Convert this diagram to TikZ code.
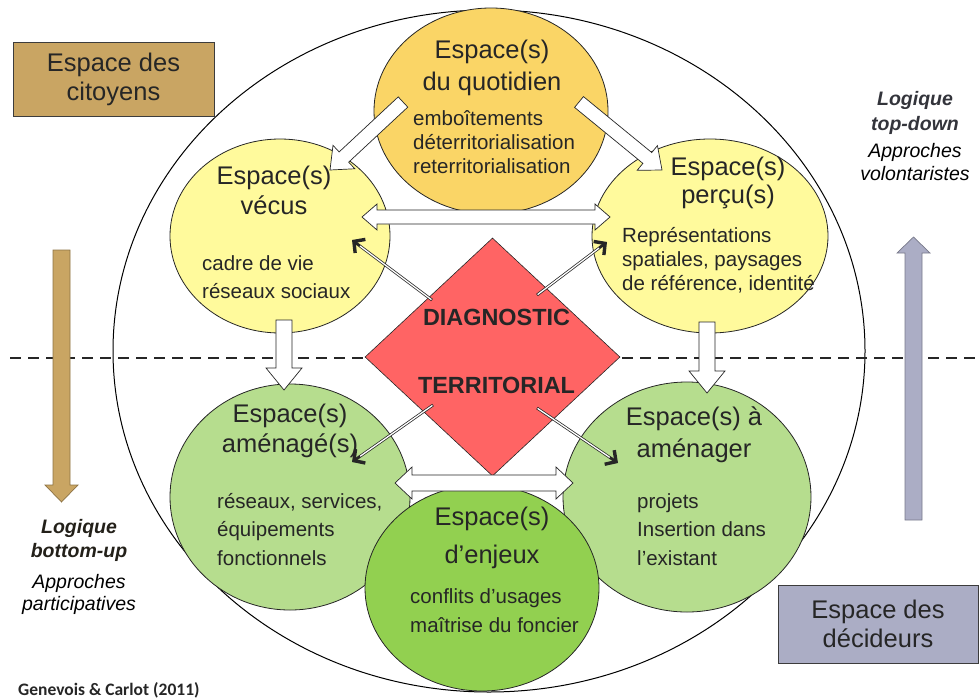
\documentclass[tikz,border=0pt]{standalone}
\usepackage{fontspec}
\setmainfont{Liberation Sans}
\newfontfamily\citefont{Carlito}
\usetikzlibrary{shapes.geometric,arrows.meta,calc,positioning}

\definecolor{quotcol}{HTML}{FAD566}
\definecolor{vecucol}{HTML}{FFFA9C}
\definecolor{amencol}{HTML}{B6DD8E}
\definecolor{enjecol}{HTML}{92D050}
\definecolor{diagcol}{HTML}{FF6464}
\definecolor{citocol}{HTML}{C9A563}
\definecolor{decicol}{HTML}{ABADC5}
\definecolor{inkcol}{HTML}{262626}

\begin{document}
\begin{tikzpicture}[x=1pt,y=-1pt,
        every node/.style={inner sep=0pt,text=inkcol},
        space node/.style={ellipse,draw=inkcol,line width=0.8pt},
        title text/.style={anchor=base,align=center,font=\fontsize{25.5}{30}\selectfont},
        body text/.style={anchor=base west,align=left,font=\fontsize{20.5}{28.5}\selectfont},
        tight body/.style={body text,font=\fontsize{20.5}{24}\selectfont},
        box node/.style={rectangle,draw=inkcol!90,line width=0.9pt,align=center,
            font=\fontsize{25.5}{29}\selectfont},
        logic text/.style={anchor=base,align=center,font=\fontsize{19.5}{24}\selectfont\bfseries\itshape},
        approach text/.style={anchor=base,align=center,text=black,
            font=\fontsize{19.5}{22.5}\selectfont\itshape},
        arrw/.store in=\arrw, arrh/.store in=\arrh, arrl/.store in=\arrl,
        arrw=7pt, arrh=16pt, arrl=19pt,
        block arrow/.style={draw=inkcol,fill=white,line width=0.7pt,line join=miter,
            to path={
            -- ($(\tikztostart)!\arrw!90:(\tikztotarget)$)
            -- ($($(\tikztotarget)!\arrl!(\tikztostart)$)!\arrw!-90:(\tikztostart)$)
            -- ($($(\tikztotarget)!\arrl!(\tikztostart)$)!\arrh!-90:(\tikztostart)$)
            -- (\tikztotarget)
            -- ($($(\tikztotarget)!\arrl!(\tikztostart)$)!\arrh!90:(\tikztostart)$)
            -- ($($(\tikztotarget)!\arrl!(\tikztostart)$)!\arrw!90:(\tikztostart)$)
            -- ($(\tikztostart)!\arrw!-90:(\tikztotarget)$)
            -- cycle}},
        double block/.style={draw=inkcol,fill=white,line width=0.7pt,line join=miter,
            to path={
            -- ($($(\tikztostart)!\arrl!(\tikztotarget)$)!\arrh!90:(\tikztotarget)$)
            -- ($($(\tikztostart)!\arrl!(\tikztotarget)$)!\arrw!90:(\tikztotarget)$)
            -- ($($(\tikztotarget)!\arrl!(\tikztostart)$)!\arrw!-90:(\tikztostart)$)
            -- ($($(\tikztotarget)!\arrl!(\tikztostart)$)!\arrh!-90:(\tikztostart)$)
            -- (\tikztotarget)
            -- ($($(\tikztotarget)!\arrl!(\tikztostart)$)!\arrh!90:(\tikztostart)$)
            -- ($($(\tikztotarget)!\arrl!(\tikztostart)$)!\arrw!90:(\tikztostart)$)
            -- ($($(\tikztostart)!\arrl!(\tikztotarget)$)!\arrw!-90:(\tikztotarget)$)
            -- ($($(\tikztostart)!\arrl!(\tikztotarget)$)!\arrh!-90:(\tikztotarget)$)
            -- cycle}},
        diag arrow/.style={draw=inkcol,line width=2.8pt,
            -{Straight Barb[length=8pt,width=17pt,line width=3.4pt]},
            postaction={draw=white,line width=1.3pt,-,shorten >=10pt,shorten <=0.7pt}}]

    \useasboundingbox (0,0) rectangle (979,699);

    % big frame and the dashed divide
    \node[space node,draw=black,line width=1pt,minimum width=752pt,minimum height=682pt] (frame) at (489,351) {};
    \coordinate (dashL) at (10,358);
    \coordinate (dashR) at (979,358);
    \draw[inkcol,line width=1.4pt,dash pattern=on 11pt off 7pt] (dashL) -- (dashR);

    % the six spaces
    \node[space node,fill=vecucol,minimum width=220pt,minimum height=194pt] (vecus) at (280,236) {};
    \node[space node,fill=vecucol,minimum width=236pt,minimum height=194pt] (percus) at (710,236) {};
    \node[space node,fill=quotcol,minimum width=234pt,minimum height=206pt] (quot) at (491,111) {};
    \node[space node,fill=amencol,minimum width=240pt,minimum height=226pt] (amen) at (290,497) {};
    \node[space node,fill=amencol,minimum width=248pt,minimum height=230pt] (aamen) at (687,497) {};
    \node[space node,fill=enjecol,minimum width=234pt,minimum height=206pt] (enjeux) at (482,588) {};

    \node[diamond,fill=diagcol,draw=inkcol,line width=0.6pt,minimum width=255pt,minimum height=238pt] (diag) at (492.5,357) {};

    % block arrows
    \coordinate (qvA) at (403,102);
    \coordinate (qvB) at (330,170);
    \coordinate (qpA) at (579,102);
    \coordinate (qpB) at (662,170);
    \coordinate (vpA) at (362,217);
    \coordinate (vpB) at (610,217);
    \coordinate (vaA) at (284,320);
    \coordinate (vaB) at (284,390);
    \coordinate (paA) at (707,322);
    \coordinate (paB) at (707,393);
    \coordinate (aaA) at (395,483);
    \coordinate (aaB) at (573,483);
    \draw[block arrow] (qvA) to (qvB);
    \draw[block arrow] (qpA) to (qpB);
    \draw[double block,arrw=7pt,arrh=13pt,arrl=15pt] (vpA) to (vpB);
    \draw[block arrow,arrw=8pt,arrh=18pt,arrl=22pt] (vaA) to (vaB);
    \draw[block arrow,arrw=8pt,arrh=18pt,arrl=22pt] (paA) to (paB);
    \draw[double block,arrw=8pt,arrh=16pt,arrl=17pt] (aaA) to (aaB);

    % arrows out of the diagnostic
    \coordinate (dvA) at (432,300);
    \coordinate (dvB) at (352,240);
    \coordinate (dpA) at (537,295);
    \coordinate (dpB) at (607,242);
    \coordinate (daA) at (433,405);
    \coordinate (daB) at (352,462);
    \coordinate (dbA) at (537,408);
    \coordinate (dbB) at (618,463);
    \draw[diag arrow] (dvA) -- (dvB);
    \draw[diag arrow] (dpA) -- (dpB);
    \draw[diag arrow] (daA) -- (daB);
    \draw[diag arrow] (dbA) -- (dbB);

    \node[anchor=base,font=\fontsize{23.4}{28}\selectfont\bfseries] (diag top) at (496.5,325) {DIAGNOSTIC};
    \node[anchor=base,font=\fontsize{23.4}{28}\selectfont\bfseries] (diag bot) at (496.5,393) {TERRITORIAL};

    % texts of the spaces (placed at the last baseline)
    \node[title text,font=\fontsize{25.5}{32}\selectfont] (quot title) at (492,90) {Espace(s)\\du quotidien};
    \node[tight body] (quot body) at (413,173) {emboîtements\\déterritorialisation\\reterritorialisation};
    \node[title text] (vecus title) at (274,214) {Espace(s)\\vécus};
    \node[body text,font=\fontsize{20.5}{28}\selectfont] (vecus body) at (202,298) {cadre de vie\\réseaux sociaux};
    \node[title text,font=\fontsize{25.5}{28}\selectfont] (percus title) at (728,203) {Espace(s)\\perçu(s)};
    \node[tight body] (percus body) at (622,290) {Représentations\\spatiales, paysages\\de référence, identité};
    \node[title text] (amen title) at (290,452) {Espace(s)\\aménagé(s)};
    \node[body text] (amen body) at (217,565) {réseaux, services,\\équipements\\fonctionnels};
    \node[title text,font=\fontsize{25.5}{32}\selectfont] (aamen title) at (694,457) {Espace(s) à\\aménager};
    \node[body text] (aamen body) at (637,565) {projets\\Insertion dans\\l’existant};
    \node[title text,font=\fontsize{25.5}{38}\selectfont] (enjeux title) at (492,563) {Espace(s)\\d’enjeux};
    \node[body text,font=\fontsize{20.5}{29}\selectfont] (enjeux body) at (410,632) {conflits d’usages\\maîtrise du foncier};

    % the two sides
    \node[box node,fill=citocol,minimum width=201pt,minimum height=74pt] (cito) at (113.5,79) {Espace des\\citoyens};
    \node[box node,fill=decicol,minimum width=200pt,minimum height=78pt] (deci) at (878,624) {Espace des\\décideurs};

    \coordinate (buA) at (61.5,250);
    \coordinate (buB) at (61.5,502);
    \coordinate (tdA) at (913.5,520);
    \coordinate (tdB) at (913.5,237);
    \draw[block arrow,fill=citocol,draw=citocol!70!black,arrw=8.5pt,arrh=16.5pt,arrl=17pt] (buA) to (buB);
    \draw[block arrow,fill=decicol,draw=decicol!70!black,arrw=8.5pt,arrh=16.5pt,arrl=16pt] (tdA) to (tdB);

    \node[logic text,text=inkcol!80!citocol!50!black] (bu title) at (79,557) {Logique\\bottom-up};
    \node[approach text,font=\fontsize{19.5}{22}\selectfont\itshape] (bu sub) at (79,610) {Approches\\participatives};
    \node[logic text,font=\fontsize{19.5}{25}\selectfont\bfseries\itshape,text=decicol!30!black] (td title) at (915,130) {Logique\\top-down};
    \node[approach text,font=\fontsize{19.5}{23}\selectfont\itshape] (td sub) at (915,180) {Approches\\volontaristes};

    \node[anchor=base west,font={\citefont\fontsize{17.5}{20}\selectfont\bfseries}] (cite) at (18,695) {Genevois \& Carlot (2011)};
\end{tikzpicture}
\end{document}
